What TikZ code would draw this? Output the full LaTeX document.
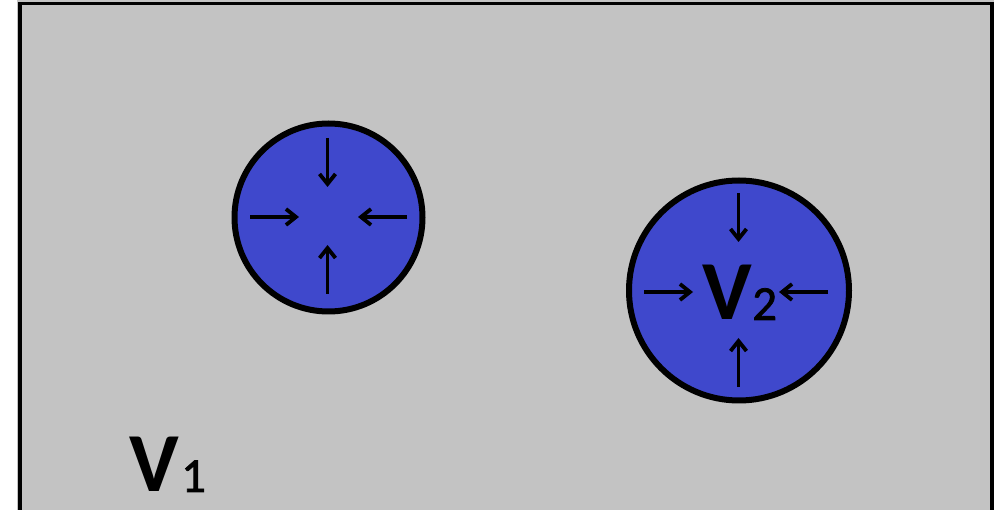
\documentclass[tikz,border=0pt]{standalone}
\usepackage{fontspec}
\setmainfont{Carlito}
\usetikzlibrary{arrows.meta,calc}
\definecolor{paintgray}{RGB}{195,195,195}
\definecolor{paintblue}{RGB}{63,72,204}
\begin{document}
\begin{tikzpicture}[x=1pt,y=-1pt,
  bubble/.style={circle, draw=black, line width=6pt, fill=paintblue, inner sep=0pt},
  push/.style={line width=3.8pt, -{Straight Barb[length=10pt,width=16pt,line width=3.8pt]}},
  biglbl/.style={anchor=base west, inner sep=0pt, font=\bfseries\fontsize{84}{84}\selectfont},
  sublbl/.style={anchor=base west, inner sep=0pt, font=\fontsize{49}{49}\selectfont\addfontfeature{FakeBold=1.5}}]
\useasboundingbox (0,0) rectangle (994,510);
\fill[white] (0,0) rectangle (994,510);
\fill[paintgray] (17,0) rectangle (994,510);
\draw[line width=3.8pt] (19.7,510) -- (19.7,3.6) -- (992,3.6) -- (992,510);

% bubble 1
\node[bubble, minimum size=188pt] (c1) at (328.5,217.5) {};
\coordinate (a1t) at (327.5,138); \coordinate (b1t) at (327.5,187);
\coordinate (a1l) at (250,217);   \coordinate (b1l) at (299,217);
\coordinate (a1r) at (407,217);   \coordinate (b1r) at (358,217);
\coordinate (a1b) at (327.5,294); \coordinate (b1b) at (327.5,245);
\draw[push] (a1t) -- (b1t);
\draw[push] (a1l) -- (b1l);
\draw[push] (a1r) -- (b1r);
\draw[push] (a1b) -- (b1b);

% bubble 2
\node[bubble, minimum size=220pt] (c2) at (739,290.5) {};
\coordinate (a2t) at (738.5,193); \coordinate (b2t) at (738.5,242);
\coordinate (a2l) at (644,292);   \coordinate (b2l) at (693,292);
\coordinate (a2r) at (828,292);   \coordinate (b2r) at (779,292);
\coordinate (a2b) at (738.5,387); \coordinate (b2b) at (738.5,338);
\draw[push] (a2t) -- (b2t);
\draw[push] (a2l) -- (b2l);
\draw[push] (a2r) -- (b2r);
\draw[push] (a2b) -- (b2b);

% labels
\node[biglbl] (v1) at (129,492) {V};
\node[sublbl] (s1) at (181,492) {1};
\node[biglbl] (v2) at (702,320) {V};
\node[sublbl] (s2) at (752,320) {2};
\end{tikzpicture}
\end{document}
